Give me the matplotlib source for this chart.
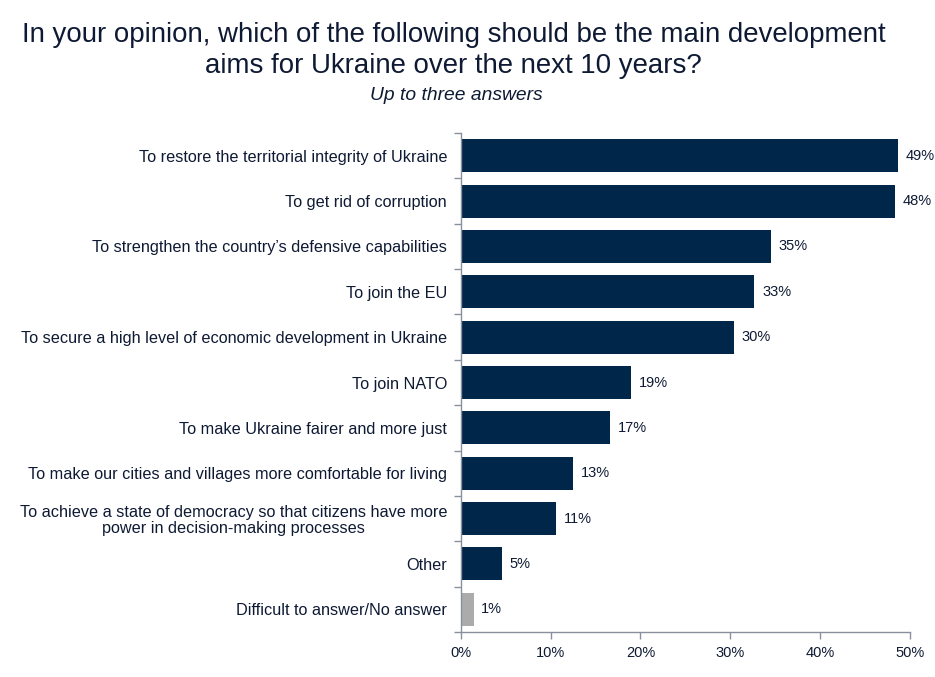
import matplotlib
matplotlib.use("Agg")
import matplotlib.pyplot as plt
import numpy as np

categories = [
    "To restore the territorial integrity of Ukraine",
    "To get rid of corruption",
    "To strengthen the country\u2019s defensive capabilities",
    "To join the EU",
    "To secure a high level of economic development in Ukraine",
    "To join NATO",
    "To make Ukraine fairer and more just",
    "To make our cities and villages more comfortable for living",
    "To achieve a state of democracy so that citizens have more\npower in decision-making processes",
    "Other",
    "Difficult to answer/No answer",
]
# bar lengths (unrounded), and the printed labels
values = [48.7, 48.4, 34.5, 32.7, 30.4, 19.0, 16.6, 12.5, 10.6, 4.6, 1.4]
value_labels = ["49%", "48%", "35%", "33%", "30%", "19%", "17%", "13%", "11%", "5%", "1%"]
xticks = [0, 10, 20, 30, 40, 50]
xtick_labels = ["0%", "10%", "20%", "30%", "40%", "50%"]

font = "Liberation Sans"
navy = "#002649"
grey = "#ababab"
txt = "#0e1a33"
spine = "#8a8f9e"

fig = plt.figure(figsize=(9.35, 6.77), dpi=100)
ax = fig.add_axes([0.493, 0.0665, 0.48, 0.737])
renderer = fig.canvas.get_renderer()


def fit(t, target_px):
    w = t.get_window_extent(renderer).width
    t.set_fontsize(t.get_fontsize() * target_px / w)


n = len(categories)
y = np.arange(n)
colors = [navy] * (n - 1) + [grey]
ax.barh(y, values, height=0.73, color=colors, zorder=2)
ax.set_ylim(n - 0.5, -0.5)
ax.set_xlim(0, 50)

for yi, v, lab in zip(y, values, value_labels):
    ax.text(v + 0.85, yi, lab, va="center", ha="left", fontsize=10.5,
            color=txt, family=font)

ax.set_yticks(y)
ax.set_yticklabels(categories, fontsize=11, color=txt, ha="right", family=font)
ax.tick_params(axis="y", length=0, pad=10)
ax.set_yticks(np.arange(-0.5, n, 1), minor=True)
ax.tick_params(axis="y", which="minor", length=5, color=spine, width=1)
ax.set_xticks(xticks)
ax.set_xticklabels(xtick_labels, fontsize=10.5, color=txt, family=font)
ax.tick_params(axis="x", length=5, color=spine, width=1, pad=5)
for s in ["top", "right"]:
    ax.spines[s].set_visible(False)
for s in ["left", "bottom"]:
    ax.spines[s].set_color(spine)
    ax.spines[s].set_linewidth(1)

ylabs = ax.get_yticklabels()
for lab in ylabs:
    lab.set_multialignment("center")
    lab.set_linespacing(1.1)
fit(ylabs[4], 424)
for lab in ylabs:
    lab.set_fontsize(ylabs[4].get_fontsize())

t1 = fig.text(454 / 935, 1 - 35 / 677,
              "In your opinion, which of the following should be the main development",
              ha="center", va="center", fontsize=20, color=txt, family=font)
fit(t1, 865)
t2 = fig.text(453 / 935, 1 - 66 / 677, "aims for Ukraine over the next 10 years?",
              ha="center", va="center", fontsize=t1.get_fontsize(), color=txt, family=font)
t3 = fig.text(456 / 935, 1 - 96 / 677, "Up to three answers", ha="center", va="center",
              fontsize=13, style="italic", color=txt, family=font)
fit(t3, 172)

fig.savefig("out.png", dpi=100)
